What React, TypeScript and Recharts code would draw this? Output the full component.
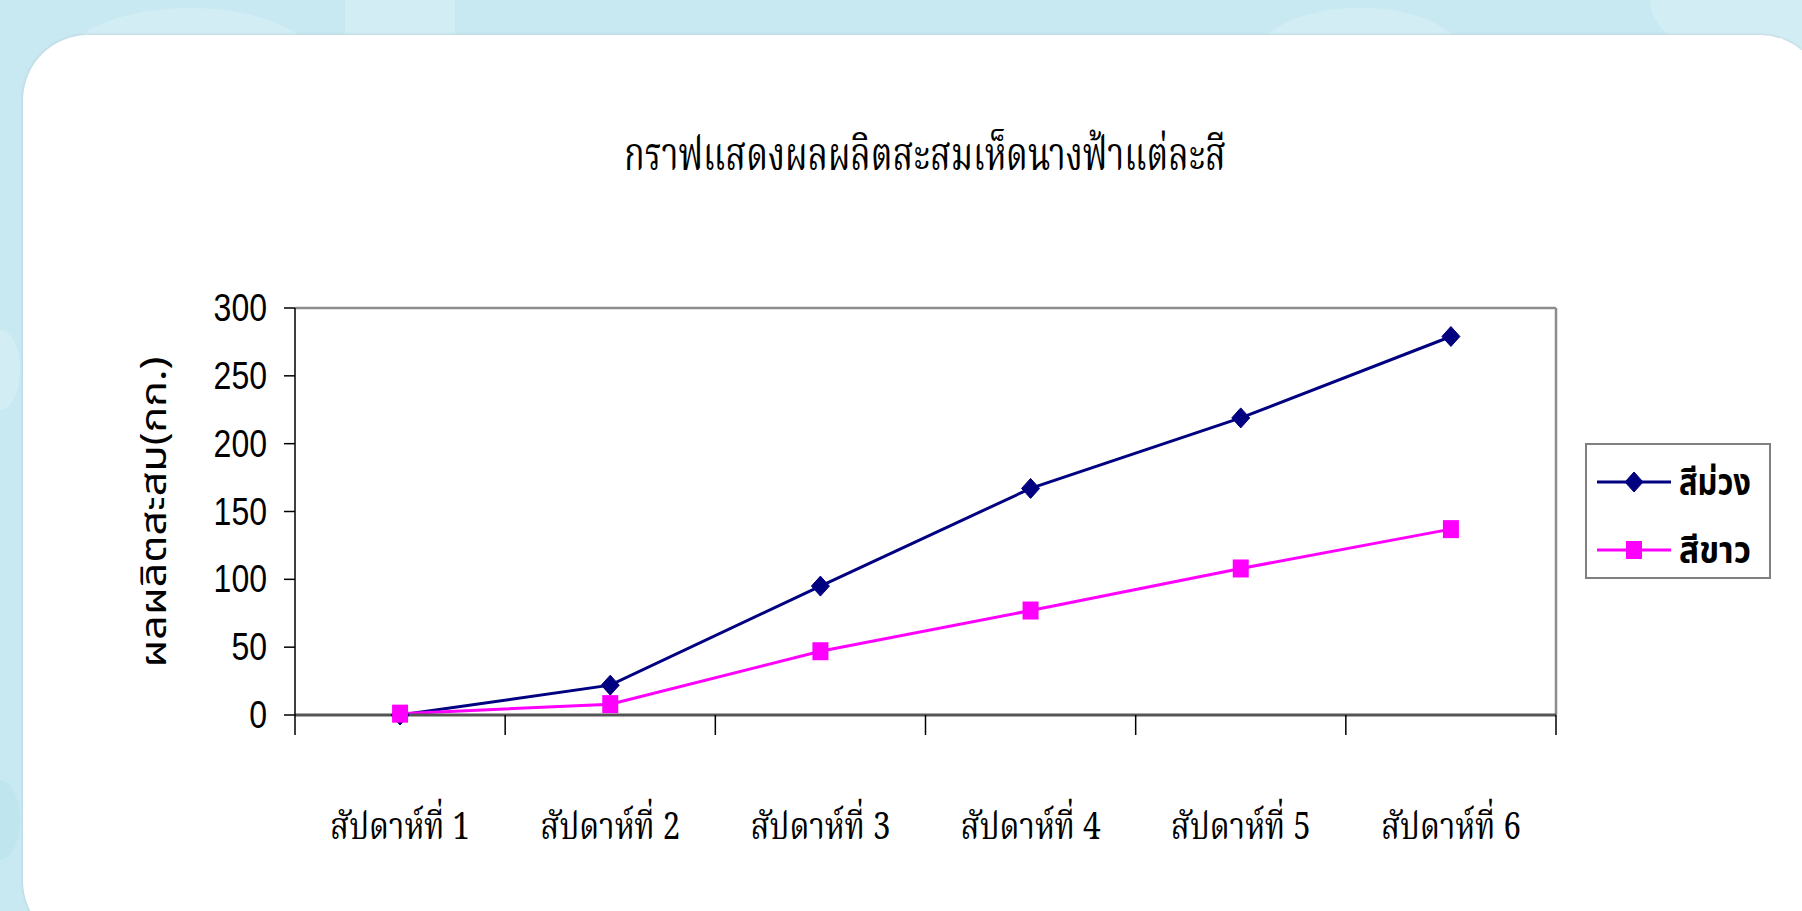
import React from 'react';
import { LineChart, Line, XAxis, YAxis, Legend, CartesianGrid } from 'recharts';

// ---------- data ----------
const categories = ['สัปดาห์ที่ 1', 'สัปดาห์ที่ 2', 'สัปดาห์ที่ 3', 'สัปดาห์ที่ 4', 'สัปดาห์ที่ 5', 'สัปดาห์ที่ 6'];
const purpleValues = [0, 22, 95, 167, 219, 279];
const whiteValues = [1, 8, 47, 77, 108, 137];
const yTicks = [0, 50, 100, 150, 200, 250, 300];
const seriesKeys = ['purple', 'white'];
const seriesNames = ['สีม่วง', 'สีขาว'];
const chartTitle = 'กราฟแสดงผลผลิตสะสมเห็ดนางฟ้าแต่ละสี';
const yAxisTitle = 'ผลผลิตสะสม(กก.)';

const data = categories.map((week, i) => ({
  week,
  purple: purpleValues[i],
  white: whiteValues[i],
}));

// ---------- layout / style ----------
const W = 1802;
const H = 911;
const PLOT = { left: 295, top: 308, right: 1556, bottom: 715 };
const Y_AXIS_W = 165;
const X_AXIS_H = 100;
const STEP = (PLOT.right - PLOT.left) / categories.length;
const NAVY = '#000080';
const MAGENTA = '#FF00FF';
const SERIF_THAI =
  "'Noto Serif Thai', 'Noto Sans Thai Looped', 'Angsana New', 'TH Sarabun New', Sarabun, Norasi, Kinnari, Laksaman, 'Liberation Serif', serif";
const SANS_THAI = "'Noto Sans Thai', Loma, Garuda, 'Liberation Sans', Arial, sans-serif";

const Diamond = (props: any) => {
  const { cx, cy } = props;
  if (cx == null || cy == null) return <g />;
  return (
    <polygon
      points={`${cx},${cy - 10} ${cx + 9},${cy} ${cx},${cy + 10} ${cx - 9},${cy}`}
      fill={NAVY}
      stroke={NAVY}
      strokeWidth={1}
    />
  );
};

const Square = (props: any) => {
  const { cx, cy } = props;
  if (cx == null || cy == null) return <g />;
  return <rect x={cx - 8} y={cy - 9} width={16} height={18} fill={MAGENTA} />;
};

const XTick = (props: any) => {
  const { x, y, payload, index } = props;
  const left = x - STEP / 2;
  const right = x + STEP / 2;
  const ty = y + 124;
  return (
    <g>
      <line x1={left} x2={left} y1={y} y2={y + 20} stroke="#000" strokeWidth={1.5} />
      {index === categories.length - 1 && (
        <line x1={right} x2={right} y1={y} y2={y + 20} stroke="#000" strokeWidth={1.5} />
      )}
      <text
        x={x}
        y={ty}
        transform={`translate(0 ${ty}) scale(1 1.12) translate(0 ${-ty})`}
        textAnchor="middle"
        fontFamily={SERIF_THAI}
        fontSize={34}
        fill="#000"
        textLength={140}
        lengthAdjust="spacingAndGlyphs"
      >
        {payload.value}
      </text>
    </g>
  );
};

const YTick = (props: any) => {
  const { x, y, payload } = props;
  return (
    <text
      x={x}
      y={y}
      transform={`translate(0 ${y}) scale(1 1.22) translate(0 ${-y})`}
      textAnchor="end"
      dominantBaseline="central"
      fontFamily="'Liberation Sans', Arial, sans-serif"
      fontSize={32}
      fill="#000"
    >
      {payload.value}
    </text>
  );
};

const YTitle = () => (
  <text
    x={155}
    y={512}
    transform="rotate(-90 155 512)"
    textAnchor="middle"
    dominantBaseline="central"
    fontFamily={SANS_THAI}
    fontSize={36}
    fill="#000"
    textLength={311}
    lengthAdjust="spacingAndGlyphs"
  >
    {yAxisTitle}
  </text>
);

const LegendBox = (props: any) => {
  const { payload } = props;
  const items = (payload || [])
    .filter((p: any) => seriesKeys.includes(p.dataKey))
    .sort((a: any, b: any) => seriesKeys.indexOf(a.dataKey) - seriesKeys.indexOf(b.dataKey));
  return (
    <div
      style={{
        width: 186,
        height: 136,
        boxSizing: 'border-box',
        border: '2px solid #808080',
        background: '#fff',
      }}
    >
      <svg width={182} height={132} style={{ overflow: 'visible', display: 'block' }}>
        {items.map((p: any, i: number) => {
          const cy = 37 + i * 68;
          const ty = cy + 13;
          return (
            <g key={p.dataKey}>
              <line x1={10} x2={84} y1={cy} y2={cy} stroke={p.color} strokeWidth={3} />
              {p.dataKey === 'purple' ? <Diamond cx={47} cy={cy} /> : <Square cx={47} cy={cy} />}
              <text
                x={92}
                y={ty}
                transform={`translate(0 ${ty}) scale(1 1.15) translate(0 ${-ty})`}
                fontFamily={SANS_THAI}
                fontWeight="bold"
                fontSize={32}
                fill="#000"
                textLength={72}
                lengthAdjust="spacingAndGlyphs"
              >
                {p.value}
              </text>
            </g>
          );
        })}
      </svg>
    </div>
  );
};

export default function App() {
  return (
    <div
      style={{
        position: 'absolute',
        left: 0,
        top: 0,
        width: W,
        height: H,
        overflow: 'hidden',
        background: '#c9e9f2',
      }}
    >
      {/* decorative background blobs */}
      <div style={{ position: 'absolute', left: 60, top: 8, width: 260, height: 120, borderRadius: '50%', background: '#d3edf4' }} />
      <div style={{ position: 'absolute', left: 345, top: -20, width: 110, height: 90, background: '#d3edf4' }} />
      <div style={{ position: 'absolute', left: 1260, top: 8, width: 200, height: 90, borderRadius: '50%', background: '#d3edf4' }} />
      <div style={{ position: 'absolute', left: 1650, top: -60, width: 200, height: 120, borderRadius: '50%', background: '#d3edf4' }} />
      <div style={{ position: 'absolute', left: -20, top: 330, width: 40, height: 80, borderRadius: '50%', background: '#d3edf4' }} />
      <div style={{ position: 'absolute', left: -20, top: 780, width: 40, height: 80, borderRadius: '50%', background: '#bfe5ef' }} />

      {/* white panel */}
      <div
        style={{
          position: 'absolute',
          left: 23,
          top: 35,
          width: W,
          height: H,
          background: '#fff',
          borderRadius: 65,
          boxShadow: '0 0 3px rgba(120,140,150,0.35)',
        }}
      />

      {/* title */}
      <svg style={{ position: 'absolute', left: 0, top: 0 }} width={W} height={220}>
        <text
          x={925}
          y={170}
          transform="translate(0 170) scale(1 1.12) translate(0 -170)"
          textAnchor="middle"
          fontFamily={SERIF_THAI}
          fontSize={42}
          fill="#000"
          textLength={602}
          lengthAdjust="spacingAndGlyphs"
        >
          {chartTitle}
        </text>
      </svg>

      <div style={{ position: 'absolute', left: 0, top: 0 }}>
        <LineChart
          width={W}
          height={H}
          data={data}
          margin={{
            left: PLOT.left - Y_AXIS_W,
            top: PLOT.top,
            right: W - PLOT.right,
            bottom: H - PLOT.bottom - X_AXIS_H,
          }}
        >
          <CartesianGrid
            horizontalPoints={[PLOT.top]}
            verticalPoints={[PLOT.right]}
            stroke="#8c8c8c"
            strokeWidth={2.5}
          />
          <XAxis
            dataKey="week"
            scale="band"
            height={X_AXIS_H}
            interval={0}
            tickSize={0}
            tickMargin={0}
            tickLine={false}
            axisLine={{ stroke: '#555', strokeWidth: 3 }}
            tick={<XTick />}
          />
          <YAxis
            width={Y_AXIS_W}
            domain={[0, 300]}
            ticks={yTicks}
            interval={0}
            tickSize={11}
            tickMargin={17}
            axisLine={{ stroke: '#000', strokeWidth: 1.5 }}
            tickLine={{ stroke: '#000', strokeWidth: 1.5 }}
            tick={<YTick />}
            label={<YTitle />}
          />
          <Line
            name={seriesNames[0]}
            dataKey="purple"
            stroke={NAVY}
            strokeWidth={3}
            dot={<Diamond />}
            activeDot={false}
            isAnimationActive={false}
          />
          <Line
            name={seriesNames[1]}
            dataKey="white"
            stroke={MAGENTA}
            strokeWidth={3}
            dot={<Square />}
            activeDot={false}
            isAnimationActive={false}
          />
          <Legend
            layout="horizontal"
            verticalAlign="middle"
            align="center"
            content={<LegendBox />}
            wrapperStyle={{ position: 'absolute', left: 1585, top: 443, width: 186, height: 136 }}
          />
        </LineChart>
      </div>
    </div>
  );
}
